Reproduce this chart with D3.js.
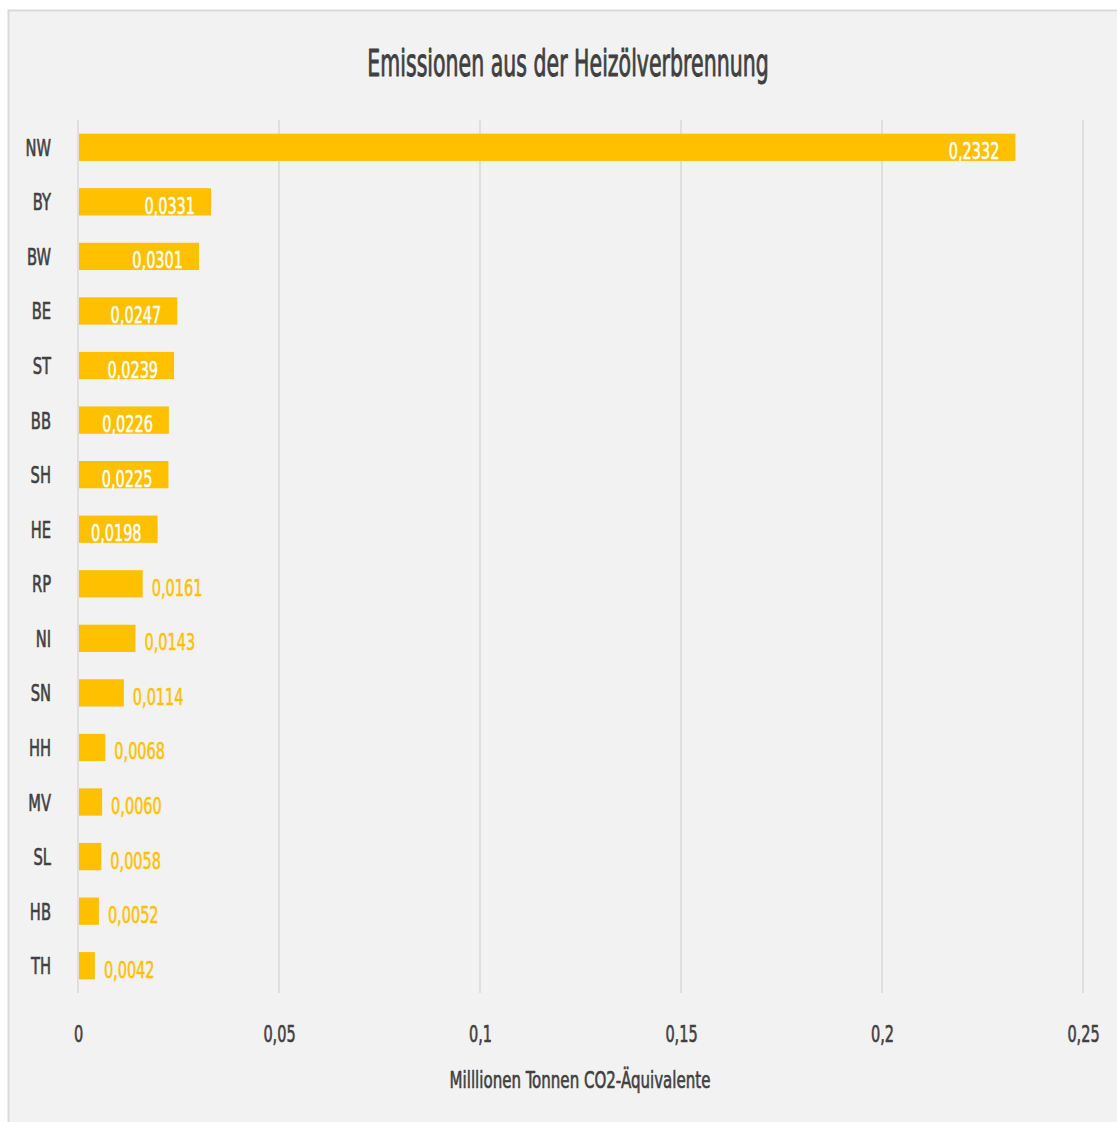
<!DOCTYPE html>
<html><head><meta charset="utf-8">
<script src="https://cdn.jsdelivr.net/npm/d3@7"></script>
<style>
html,body{margin:0;padding:0;background:#fff;}
text{font-family:"Liberation Sans Narrow","DejaVu Sans Condensed","Liberation Sans",sans-serif;}
</style></head>
<body>
<svg id="chart" width="1117" height="1122"></svg>
<script>
const categories = ["NW","BY","BW","BE","ST","BB","SH","HE","RP","NI","SN","HH","MV","SL","HB","TH"];
const values = [0.2332,0.0331,0.0301,0.0247,0.0239,0.0226,0.0225,0.0198,0.0161,0.0143,0.0114,0.0068,0.0060,0.0058,0.0052,0.0042];
const valueLabels = ["0,2332","0,0331","0,0301","0,0247","0,0239","0,0226","0,0225","0,0198","0,0161","0,0143","0,0114","0,0068","0,0060","0,0058","0,0052","0,0042"];
const tickValues = [0,0.05,0.1,0.15,0.2,0.25];
const tickLabels = ["0","0,05","0,1","0,15","0,2","0,25"];
const title = "Emissionen aus der Heizölverbrennung";
const xTitle = "Milllionen Tonnen CO2-Äquivalente";

const svg = d3.select("#chart");
const TXT = "#404040", BAR = "#FFC000", GRID = "#d9d9d9";
function condense(sel, f){
  sel.each(function(){
    const w = this.getComputedTextLength();
    d3.select(this).attr("textLength", w*f).attr("lengthAdjust","spacingAndGlyphs");
  });
}
function heavy(sel, c, w){ sel.attr("stroke", c).attr("stroke-width", w).attr("stroke-linejoin","round"); }

svg.append("rect").attr("x",8.5).attr("y",10.5).attr("width",1130).attr("height",1130)
  .attr("fill","#f2f2f2").attr("stroke","#d9d9d9").attr("stroke-width",2);

const pLeft = 78, pRight = 1083, pTop = 120, pBottom = 993;
const x = d3.scaleLinear().domain([0,0.25]).range([pLeft,pRight]);
const y = d3.scaleBand().domain(categories).range([pTop,pBottom]).paddingInner(0.5).paddingOuter(0.25);

// gridlines
svg.append("g").selectAll("line").data(tickValues).join("line")
  .attr("x1",d=>x(d)).attr("x2",d=>x(d)).attr("y1",pTop).attr("y2",pBottom)
  .attr("stroke",GRID).attr("stroke-width",1.5);

// bars
svg.append("g").selectAll("rect").data(values).join("rect")
  .attr("x",x(0)+1).attr("y",(d,i)=>y(categories[i]))
  .attr("width",d=>x(d)-x(0)-1).attr("height",y.bandwidth())
  .attr("fill",BAR);

// category labels
const cat = svg.append("g").selectAll("text").data(categories).join("text")
  .attr("x",51).attr("y",d=>y(d)+y.bandwidth()/2+8.5)
  .attr("text-anchor","end").attr("font-size",23).attr("fill",TXT).text(d=>d);
condense(cat, 0.71);
heavy(cat, TXT, 0.6);

// value labels
const vl = svg.append("g").selectAll("text").data(values).join("text")
  .attr("font-size",23).text((d,i)=>valueLabels[i])
  .attr("y",(d,i)=>y(categories[i])+y.bandwidth()/2+12);
vl.each(function(d){
  const w = this.getComputedTextLength()*0.7;
  const bw = x(d)-x(0);
  const s = d3.select(this);
  if (bw >= w + 22) {
    s.attr("x", x(d)-16).attr("text-anchor","end").attr("fill","#ffffff");
    heavy(s, "#ffffff", 0.5);
  } else {
    s.attr("x", x(d)+9).attr("text-anchor","start").attr("fill",BAR);
    heavy(s, BAR, 0.5);
  }
});
condense(vl, 0.7);

// x axis
const xAxis = d3.axisBottom(x).tickValues(tickValues).tickSize(0).tickFormat((d,i)=>tickLabels[i]);
const ax = svg.append("g").attr("transform",`translate(0,${pBottom})`).call(xAxis);
ax.select(".domain").remove();
ax.attr("font-family",null).attr("font-size",null);
ax.selectAll("text").attr("font-size",23).attr("fill",TXT).attr("dy",null).attr("y",49);
condense(ax.selectAll("text"), 0.7);
heavy(ax.selectAll("text"), TXT, 0.6);

// titles
const t = svg.append("text").attr("x",568).attr("y",76).attr("text-anchor","middle")
  .attr("font-size",38).attr("fill",TXT).text(title);
condense(t, 0.6);
heavy(t, TXT, 0.9);
const xt = svg.append("text").attr("x",580).attr("y",1088).attr("text-anchor","middle")
  .attr("font-size",23).attr("fill",TXT).text(xTitle);
condense(xt, 0.727);
heavy(xt, TXT, 0.6);
</script>
</body></html>
